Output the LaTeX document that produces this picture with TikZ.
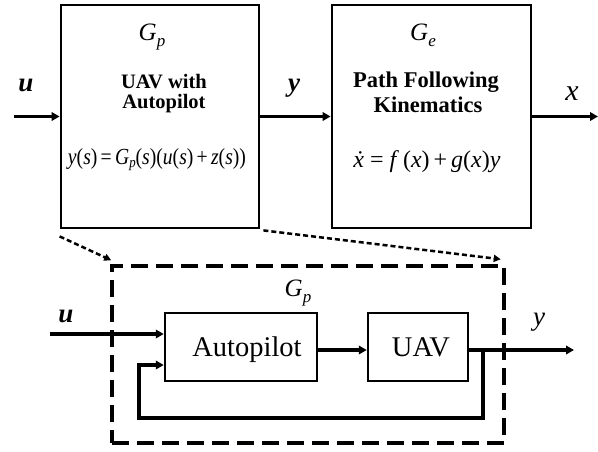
\documentclass[tikz,border=0pt]{standalone}
\usepackage{fontspec}
\setmainfont{Liberation Serif}
\usetikzlibrary{arrows.meta,calc}
\newcommand{\vi}[1]{\textit{#1}}
\tikzset{
  blk/.style={draw, line width=2.8pt, inner sep=0pt},
  arr/.style={line width=3.5pt, -{Triangle[length=8pt,width=8.5pt]}},
  dotarr/.style={line width=2.5pt, dash pattern=on 5pt off 3pt, -{Triangle[length=7pt,width=7pt]}},
  dbox/.style={draw, line width=3.5pt, dash pattern=on 17pt off 8pt, inner sep=0pt},
  lbl/.style={anchor=base, inner sep=0pt},
}
\begin{document}
\begin{tikzpicture}[x=1pt,y=-1pt]
\useasboundingbox (0,0) rectangle (598,451);

% upper row: plant and path-following kinematics
\node[blk, minimum width=198pt, minimum height=223pt] (gpbox) at (160,116.5) {};
\node[blk, minimum width=199pt, minimum height=223pt] (gebox) at (431.5,116.5) {};

\node[lbl, font=\fontsize{25}{27}\selectfont] (gp1) at (152,40) {\vi{G}\raisebox{-6pt}{\fontsize{17}{18}\selectfont\vi{p}}};
\node[lbl, font=\bfseries\fontsize{20.5}{22}\selectfont] (t1) at (164,88) {UAV with};
\node[lbl, font=\bfseries\fontsize{20.5}{22}\selectfont] (t2) at (164,108) {Autopilot};
\node[lbl, font=\fontsize{23}{25}\selectfont] (eq1) at (157,164)
  {\resizebox{178pt}{\height}{\vi{y}(\vi{s})\,=\,\vi{G}\raisebox{-3pt}{\fontsize{15}{16}\selectfont\vi{p}}(\vi{s})(\vi{u}(\vi{s})\,+\,\vi{z}(\vi{s}))}};

\node[lbl, font=\fontsize{25}{27}\selectfont] (ge1) at (423,40) {\vi{G}\raisebox{-6pt}{\fontsize{17}{18}\selectfont\vi{e}}};
\node[lbl, font=\bfseries\fontsize{22.5}{24}\selectfont] (t3) at (426,87) {Path Following};
\node[lbl, font=\bfseries\fontsize{22.5}{24}\selectfont] (t4) at (428,112) {Kinematics};
\node[lbl, font=\fontsize{24}{26}\selectfont] (eq2) at (427,167) {\vi{\.{x}} = \vi{f}\,(\vi{x})\,+\,\vi{g}(\vi{x})\vi{y}};

% upper signals
\coordinate (uin) at (14,116.5);
\coordinate (xout) at (598,116.5);
\draw[arr] (uin) -- (gpbox.west);
\draw[arr] (gpbox.east) -- (gebox.west);
\draw[arr] (gebox.east) -- (xout);
\node[lbl, font=\bfseries\itshape\fontsize{27}{29}\selectfont] (lu) at (26,91) {u};
\node[lbl, font=\bfseries\itshape\fontsize{27}{29}\selectfont] (ly) at (294,91) {y};
\node[lbl, font=\itshape\fontsize{30}{32}\selectfont] (lx) at (572,100) {x};

% expanded view of G_p
\node[dbox, minimum width=392pt, minimum height=177pt] (dbx) at (308,354.5) {};
\node[blk, line width=2.5pt, minimum width=152pt, minimum height=68pt] (ap) at (241,347) {};
\node[blk, line width=2.5pt, minimum width=100pt, minimum height=68pt] (uav) at (418,347) {};
\node[lbl, font=\fontsize{28.5}{30}\selectfont] (apt) at (247,356) {Autopilot};
\node[lbl, font=\fontsize{28.5}{30}\selectfont] (uavt) at (421,356) {UAV};
\node[lbl, font=\fontsize{25}{27}\selectfont] (gp2) at (298,296) {\vi{G}\raisebox{-6pt}{\fontsize{17}{18}\selectfont\vi{p}}};

\draw[dotarr] ($(gpbox.south west)+(0,7)$) -- ($(dbx.north west)+(1,-4)$);
\draw[dotarr] ($(gpbox.south east)+(3,1)$) -- ($(dbx.north east)+(-5,-5)$);

% lower signals
\coordinate (uin2) at (50,334);
\coordinate (yo) at (574,350);
\coordinate (br) at (483,350);
\coordinate (fbl) at (139,418);
\coordinate (fbin) at (139,365);
\draw[arr] (uin2) -- (uin2 -| ap.west);
\draw[arr] (ap.east |- yo) -- (uav.west |- yo);
\draw[arr] (uav.east |- yo) -- (yo);
\draw[arr] (br) |- (fbl) -- (fbin) -- (fbin -| ap.west);
\node[lbl, font=\bfseries\itshape\fontsize{27}{29}\selectfont] (lu2) at (66,322) {u};
\node[lbl, font=\itshape\fontsize{27}{29}\selectfont] (ly2) at (539,325) {y};
\end{tikzpicture}
\end{document}
